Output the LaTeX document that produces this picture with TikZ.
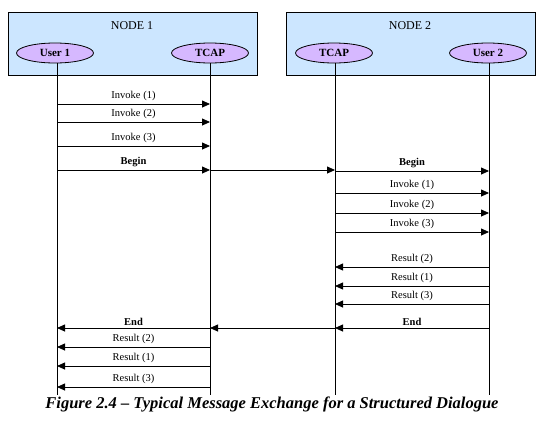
\documentclass[tikz,border=0pt]{standalone}
\usepackage{fontspec}
\setmainfont{Liberation Serif}
\usetikzlibrary{shapes.geometric,arrows.meta}

\definecolor{nodeblue}{RGB}{204,230,255}
\definecolor{entlilac}{RGB}{214,184,255}

\tikzset{
    nodebox/.style={draw, fill=nodeblue, line width=1pt, minimum width=249pt, minimum height=63pt},
    entity/.style={ellipse, draw, fill=entlilac, line width=0.8pt, minimum width=77pt, minimum height=20pt, inner sep=0pt, font=\fontsize{11}{12}\selectfont\bfseries},
    lifeline/.style={line width=0.8pt},
    msg/.style={line width=0.8pt, -{Triangle[length=8pt,width=7pt]}},
    msglab/.style={above, inner sep=2.5pt, font=\fontsize{10.5}{12}\selectfont},
    msgbold/.style={msglab, font=\fontsize{10.5}{12}\selectfont\bfseries}
}

\begin{document}
\begin{tikzpicture}[x=1pt, y=-1pt]

    % Bordi della pagina
    \useasboundingbox (0,0) rectangle (546,421);

    % Riquadri dei due nodi
    \node[nodebox] (node1) at (132.5,43.5) {};
    \node[nodebox] (node2) at (410.5,43.5) {};
    \node[font=\fontsize{12}{14}\selectfont] (node1lab) at (132,26) {NODE 1};
    \node[font=\fontsize{12}{14}\selectfont] (node2lab) at (410,26) {NODE 2};

    % Entita' (ellissi)
    \node[entity] (user1) at (55,53) {User 1};
    \node[entity] (tcap1) at (210,53) {TCAP};
    \node[entity] (tcap2) at (334,53) {TCAP};
    \node[entity] (user2) at (488,53) {User 2};

    % Linee di vita
    \coordinate (user1end) at (57,395);
    \coordinate (tcap1end) at (210,395);
    \coordinate (tcap2end) at (335,395);
    \coordinate (user2end) at (489,395);
    \draw[lifeline] (user1.south -| user1end) -- (user1end);
    \draw[lifeline] (tcap1.south -| tcap1end) -- (tcap1end);
    \draw[lifeline] (tcap2.south -| tcap2end) -- (tcap2end);
    \draw[lifeline] (user2.south -| user2end) -- (user2end);

    % User 1 -> TCAP (nodo 1)
    \foreach \y/\lab in {104/Invoke (1), 122/Invoke (2), 146/Invoke (3)}
        \draw[msg] (user1end |- 0,\y) -- node[msglab] {\lab} (tcap1end |- 0,\y);
    \draw[msg] (user1end |- 0,170) -- node[msgbold] {Begin} (tcap1end |- 0,170);

    % TCAP -> TCAP
    \draw[msg] (tcap1end |- 0,170) -- (tcap2end |- 0,170);

    % TCAP (nodo 2) -> User 2
    \draw[msg] (tcap2end |- 0,171) -- node[msgbold] {Begin} (user2end |- 0,171);
    \foreach \y/\lab in {193/Invoke (1), 213/Invoke (2), 232/Invoke (3)}
        \draw[msg] (tcap2end |- 0,\y) -- node[msglab] {\lab} (user2end |- 0,\y);

    % User 2 -> TCAP (nodo 2)
    \foreach \y/\lab in {267/Result (2), 286/Result (1), 304/Result (3)}
        \draw[msg] (user2end |- 0,\y) -- node[msglab] {\lab} (tcap2end |- 0,\y);

    % End verso User 1
    \draw[msg] (user2end |- 0,328) -- node[msgbold] {End} (tcap2end |- 0,328);
    \draw[msg] (tcap2end |- 0,328) -- (tcap1end |- 0,328);
    \draw[msg] (tcap1end |- 0,328) -- node[msgbold] {End} (user1end |- 0,328);

    % TCAP (nodo 1) -> User 1
    \foreach \y/\lab in {347/Result (2), 366/Result (1), 387/Result (3)}
        \draw[msg] (tcap1end |- 0,\y) -- node[msglab] {\lab} (user1end |- 0,\y);

    % Didascalia
    \node[font=\fontsize{16.5}{18}\selectfont\bfseries\itshape] (caption) at (272,404)
        {Figure 2.4 – Typical Message Exchange for a Structured Dialogue};

\end{tikzpicture}
\end{document}
